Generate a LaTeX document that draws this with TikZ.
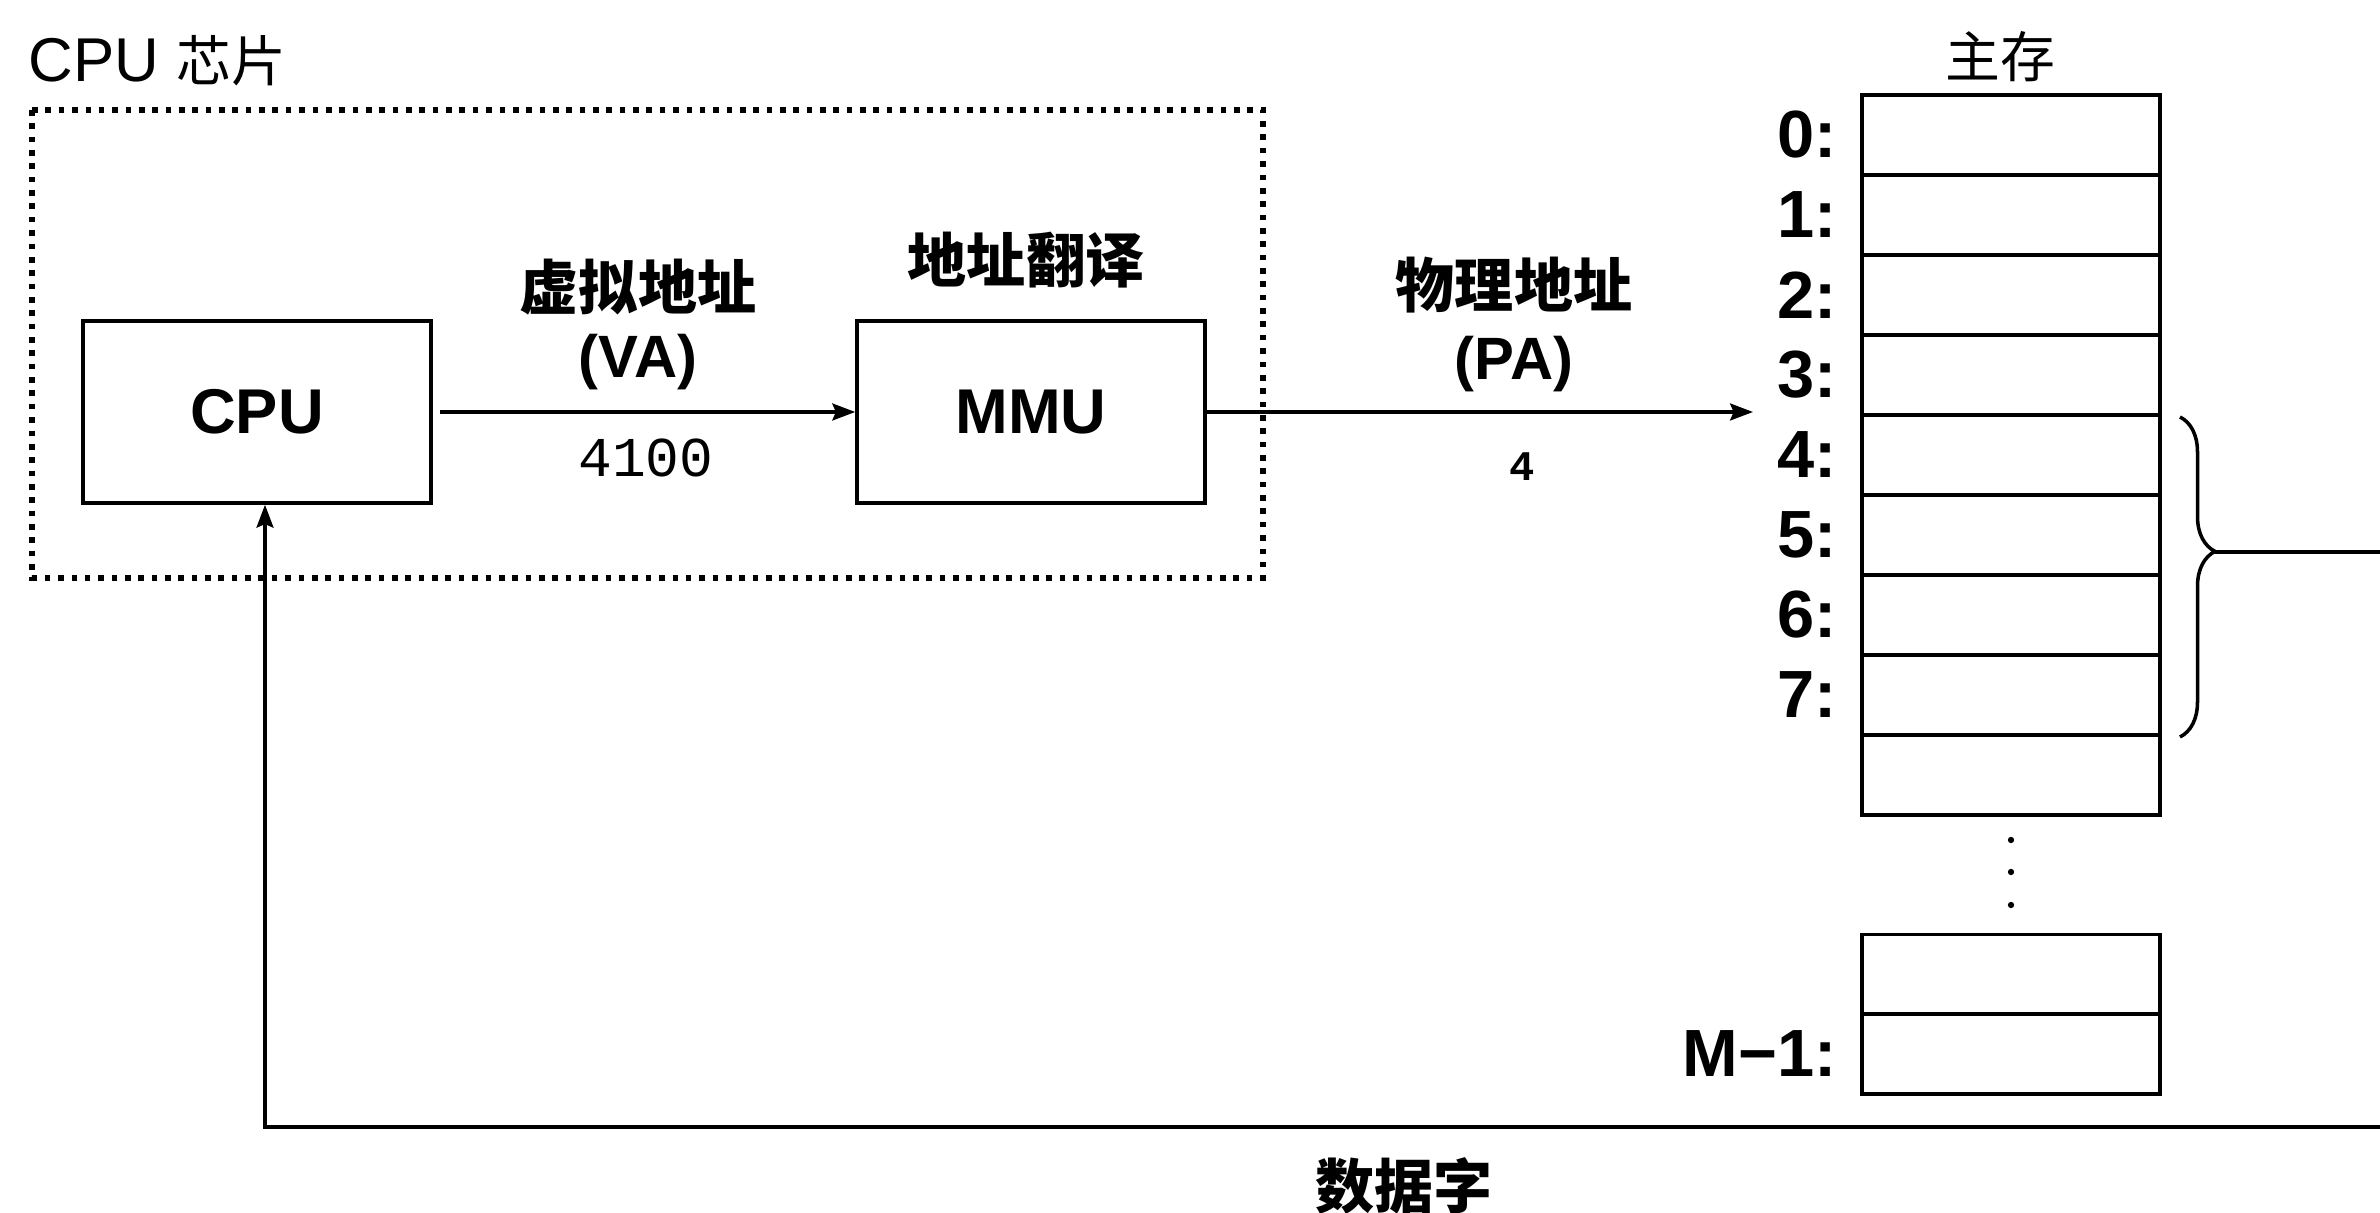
\documentclass[tikz,border=0pt]{standalone}
\usepackage{fontspec}
\setmainfont{Liberation Sans}
\newfontfamily\cjk{Noto Sans CJK SC}
\newfontfamily\monofnt{Liberation Mono}
\usetikzlibrary{arrows.meta,positioning,decorations.pathreplacing}

\begin{document}
\begin{tikzpicture}[x=1cm,y=1cm,line width=1pt,
  unit/.style={draw,minimum width=3.48cm,minimum height=1.82cm,font=\fontsize{18}{20}\selectfont\bfseries},
  cell/.style={draw,minimum width=2.98cm,minimum height=0.8cm,inner sep=0pt},
  addr/.style={inner sep=0pt,font=\fontsize{19}{21}\selectfont\bfseries},
  cnlbl/.style={inner sep=0pt,font=\fontsize{16.8}{18}\selectfont\cjk\bfseries},
  tag/.style={inner sep=0pt,font=\fontsize{17}{19}\selectfont\bfseries},
  num/.style={inner sep=0pt,font=\fontsize{16}{18}\selectfont\monofnt},
  chipline/.style={line width=1.6pt,dash pattern=on 1.6pt off 2.2pt},
  tip/.style={-{Stealth[length=6.5pt,width=4.8pt,inset=1pt]}}]
\useasboundingbox (0,0) rectangle (23.8,-12.13);

\node[anchor=base west,inner sep=0pt,font=\fontsize{17.6}{19}\selectfont] (chiptitle) at (0.27,-0.82) {CPU {\cjk\fontsize{15.6}{17}\selectfont 芯片}};
\draw[chipline] (0.32,-1.10) rectangle (12.63,-5.78);

\node[unit] (cpu) at (2.57,-4.12) {CPU};
\node[unit] (mmu) at (10.31,-4.12) {MMU};
\node[cnlbl] (xlate) at (10.26,-2.60) {地址翻译};

\draw[tip,shorten <=2pt] (cpu.east) -- (mmu.west);
\node[cnlbl] (valbl) at (6.38,-2.87) {虚拟地址};
\node[tag] (vatag) at (6.38,-3.62) {(VA)};
\node[num] (vanum) at (6.46,-4.58) {4100};

\coordinate (paend) at (17.53,-4.12);
\draw[tip] (mmu.east) -- (paend);
\node[cnlbl] (palbl) at (15.14,-2.85) {物理地址};
\node[tag] (patag) at (15.14,-3.64) {(PA)};
\node[inner sep=0pt,font=\fontsize{12}{14}\selectfont\monofnt\bfseries] (panum) at (15.22,-4.67) {4};

% main memory
\node[inner sep=0pt,font=\fontsize{15.6}{17}\selectfont\cjk] (memtitle) at (20.0,-0.57) {主存};
\foreach \i in {0,...,8} \node[cell] (m\i) at (20.11,{-1.35-0.8*\i}) {};
\foreach \i in {0,...,7} \node[addr,left=0.22cm of m\i] (lab\i) {\i:};
\foreach \y in {8.40,8.72,9.05} \fill (20.11,-\y) circle (0.9pt);
\node[cell] (mpre) at (20.11,-9.745) {};
\node[cell] (mlast) at (20.11,-10.54) {};
\node[addr,left=0.22cm of mlast] (lablast) {M−1:};

\draw[decorate,decoration={brace,amplitude=0.35cm,aspect=0.42}] (21.80,-4.17) -- (21.80,-7.37);
\coordinate (bracetip) at (22.15,-5.52);
\coordinate (edgeA) at (23.8,-5.52);
\draw (bracetip) -- (edgeA);

\coordinate (edgeB) at (23.8,-11.27);
\coordinate (feed) at (2.65,-11.27);
\draw[tip] (edgeB) -- (feed) -- (feed |- cpu.south);
\node[cnlbl] (datalbl) at (14.04,-11.86) {数据字};
\end{tikzpicture}
\end{document}
